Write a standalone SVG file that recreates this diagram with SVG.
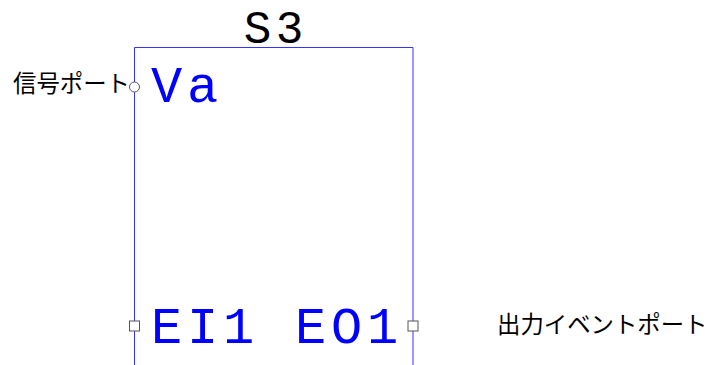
<svg xmlns="http://www.w3.org/2000/svg" width="709" height="365" viewBox="0 0 709 365">
<style>
.mono{font-family:"Liberation Mono","Courier New",monospace;font-size:52px;letter-spacing:4.8px;fill:#0000ff}
.title{font-family:"Liberation Mono","Courier New",monospace;font-size:46px;letter-spacing:4.4px;fill:#000}
.lbl{font-family:"Noto Sans CJK JP","Noto Sans",sans-serif;font-size:23.4px;fill:#000}
.port{fill:#fff;stroke:#555;stroke-width:1}
</style>
<g id="S3">
<path d="M134.5 365 V47.5 H413 V365" fill="none" stroke="#3333ff" stroke-width="1"/>
<text class="title" x="275.7" y="43" text-anchor="middle">S3</text>
<text class="mono" x="151" y="102">Va</text>
<text class="mono" x="151" y="343" xml:space="preserve">EI1 EO1</text>
</g>
<g id="port-signal">
<circle class="port" cx="134.5" cy="87" r="5"/>
<text class="lbl" x="13" y="92">信号ポート</text>
</g>
<g id="port-in">
<rect class="port" x="129.5" y="321" width="10" height="10"/>
</g>
<g id="port-out">
<rect class="port" x="408" y="321" width="10" height="10"/>
<text class="lbl" x="497" y="333">出力イベントポート</text>
</g>
<g id="connectors"/>
</svg>
